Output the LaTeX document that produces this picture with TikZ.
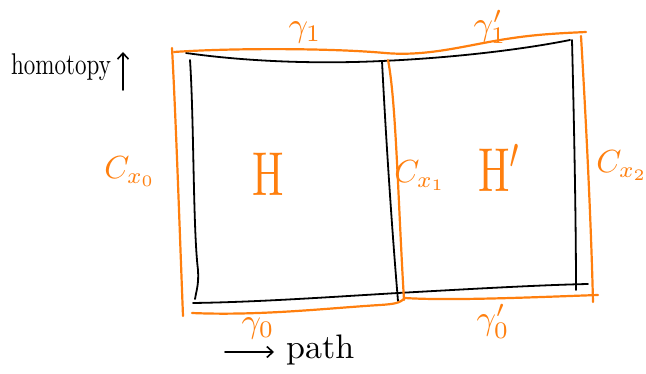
\documentclass[tikz,border=0pt]{standalone}
\usepackage{graphicx}
\usepackage{tikz}
\usetikzlibrary{arrows.meta}
\definecolor{sketchorange}{RGB}{255,127,14}
\newcommand{\sk}[2]{\scalebox{#1}{#2}}
\tikzset{
  blk/.style={draw=black, line width=1.8pt, line cap=round, line join=round},
  org/.style={draw=sketchorange, line width=2.2pt, line cap=round, line join=round},
  olabel/.style={text=sketchorange, inner sep=0pt},
  klabel/.style={text=black, inner sep=0pt},
  handarrow/.style={draw=black, line width=1.6pt, line cap=round, -{Straight Barb[length=6pt,width=11pt]}},
}
\begin{document}
\begin{tikzpicture}[x=1pt,y=-1pt]
\useasboundingbox (0,0) rectangle (646,374);
% named corner coordinates
\coordinate (btl) at (186,53);
\coordinate (bm) at (382,61);
\coordinate (btr) at (570,40);
\coordinate (bbl) at (193,303);
\coordinate (bbm) at (398,293);
\coordinate (bbr) at (588,284);
% black boundary lines
\draw[blk] (btl) .. controls (250,62) and (320,64) .. (bm) .. controls (450,58) and (520,50) .. (btr);
\draw[blk] (bbl) .. controls (260,302) and (330,297) .. (bbm) .. controls (470,289) and (540,285) .. (bbr);
\draw[blk] (190,60) .. controls (194,120) and (193,230) .. (198,270) .. controls (199,285) and (196,292) .. (195,299);
\draw[blk] (bm) .. controls (386,140) and (392,230) .. (398,301);
\draw[blk] (572,40) .. controls (574,120) and (576,220) .. (576,290);
% orange boundary
\draw[org] (174,52) .. controls (230,48) and (330,48) .. (385,53) .. controls (430,57) and (470,44) .. (513,38) .. controls (540,34) and (565,33) .. (586,32);
\draw[org] (172,48) .. controls (176,120) and (180,240) .. (183,316);
\draw[org] (192,313) .. controls (260,316) and (330,308) .. (380,305) .. controls (395,304) and (400,303) .. (405,298) .. controls (450,301) and (540,297) .. (598,295);
\draw[org] (388,60) .. controls (396,100) and (398,200) .. (404,300);
\draw[org] (581,36) .. controls (586,120) and (591,220) .. (593,302);
% labels
\node[olabel] (g1) at (305,32) {\sk{3.4}{$\gamma_1$}};
\node[olabel] (g1p) at (490,27) {\sk{3.4}{$\gamma_1'$}};
\node[olabel] (g0) at (258,328) {\sk{3.4}{$\gamma_0$}};
\node[olabel] (g0p) at (493,321) {\sk{3.4}{$\gamma_0'$}};
\node[olabel] (cx0) at (130,172) {\sk{3.2}{$C_{x_0}$}};
\node[olabel] (cx1) at (420,176) {\sk{3.2}{$C_{x_1}$}};
\node[olabel] (cx2) at (622,166) {\sk{3.2}{$C_{x_2}$}};
\node[olabel] (H) at (268,174) {\scalebox{4.2}[6.2]{H}};
\node[olabel] (Hp) at (500,168) {\scalebox{4.2}[6.2]{H$'$}};
\node[klabel, anchor=west] (hom) at (11,67) {\scalebox{2.3}[3]{homotopy}};
\coordinate (ha1) at (123,90);
\coordinate (ha2) at (123,52);
\draw[handarrow] (ha1) -- (ha2);
\node[klabel, anchor=west] (path) at (286,350) {\sk{3.4}{path}};
\coordinate (pa1) at (225,352);
\coordinate (pa2) at (274,352);
\draw[handarrow] (pa1) -- (pa2);
\end{tikzpicture}
\end{document}
